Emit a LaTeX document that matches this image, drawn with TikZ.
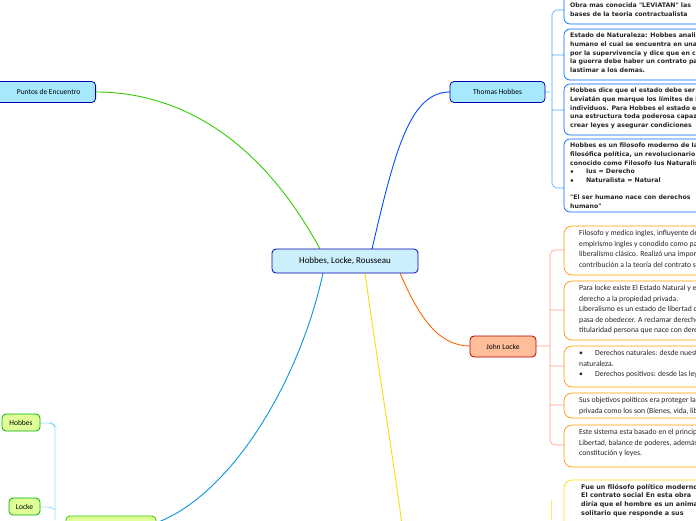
\documentclass[tikz,border=0pt]{standalone}
\usepackage{fontspec}
\setmainfont{Carlito}
\newfontfamily\vb{DejaVu Sans}
\begin{document}
\begin{tikzpicture}[x=1pt,y=-1pt,
 topic/.style={draw=#1!70!black,rounded corners=4pt,line width=0.8pt,inner sep=0pt,font=\fontsize{7.5}{9}\selectfont},
 hb/.style={draw=blue!60!cyan,line width=0.7pt,rounded corners=6pt,fill=white},
 lb/.style={draw=orange!80!yellow,line width=0.7pt,rounded corners=8pt,fill=white},
 rb/.style={draw=yellow!80!orange,line width=0.7pt,rounded corners=8pt,fill=white},
 ht/.style={anchor=north west,align=left,inner sep=0pt,font=\vb\bfseries\fontsize{6.2}{8.6}\selectfont,text=black!85},
 lt/.style={anchor=north west,align=left,inner sep=0pt,font=\fontsize{7.7}{10.6}\selectfont,text=black!85},
 bluel/.style={draw=blue!70!cyan,line width=0.9pt},
]
\useasboundingbox (0,0) rectangle (696,520);
\clip (0,0) rectangle (696,520);
% connectors
\draw[draw=green!60!olive,line width=0.9pt] (320,249) .. controls (250,120) and (160,92) .. (96,92);
\draw[bluel] (372,249) .. controls (395,150) and (410,92) .. (450,92);
\draw[draw=orange!80!red,line width=0.9pt] (400,273) .. controls (420,320) and (440,346) .. (470,346);
\draw[draw=cyan!80!blue,line width=0.9pt] (323,273) .. controls (300,380) and (230,500) .. (150,525);
\draw[draw=yellow!80!orange,line width=0.9pt] (365,273) .. controls (380,380) and (395,470) .. (402,525);
% branches
\draw[draw=blue!50!cyan!70,line width=0.6pt,rounded corners=5pt] (545,92) -- (550,92)
 (564,10) -- (552,10) -- (552,188) -- (564,188) (552,55) -- (564,55) (552,110) -- (564,110);
\draw[draw=orange!50!red!50,line width=0.6pt,rounded corners=5pt] (536,346) -- (550,346)
 (564,250) -- (550,250) -- (550,445) -- (564,445) (550,310) -- (564,310) (550,366) -- (564,366) (550,405) -- (564,405);
\draw[draw=cyan!40,line width=0.8pt,rounded corners=4pt] (40,423) -- (52,423) -- (55,426) -- (55,520) (40,507) -- (52,507) -- (55,510);
% Topic nodes
\node[topic=blue,fill=cyan!20,minimum width=146pt,minimum height=24pt,font=\fontsize{9}{10}\selectfont] (c) at (345,261) {Hobbes, Locke, Rousseau};
\node[topic=blue,fill=blue!25!cyan!35,minimum width=100pt,minimum height=21pt,anchor=east] (pe) at (96,92) {\hspace*{6pt}Puntos de Encuentro};
\node[topic=blue,fill=blue!25!cyan!35,minimum width=95pt,minimum height=21pt] (th) at (497.5,92) {Thomas Hobbes};
\node[topic=red,fill=red!30!orange!40,minimum width=66pt,minimum height=21pt] (jl) at (503,346.5) {John Locke};
\node[topic=green,fill=green!30!yellow!40,minimum width=38pt,minimum height=17pt] (h2) at (21,422.5) {Hobbes};
\node[topic=green,fill=green!30!yellow!40,minimum width=31pt,minimum height=17pt] (l2) at (24.5,506.5) {Locke};
\draw[draw=green!60!olive,fill=green!30!yellow!40,line width=0.8pt,rounded corners=4pt] (66,530) rectangle (156,516);
% Hobbes boxes
\draw[hb] (564,-6) rectangle (710,24);
\node[ht] (t1) at (570,3) {Obra mas conocida "LEVIATAN" las\\bases de la teoria contractualista};
\draw[hb] (564,29) rectangle (710,80);
\node[ht] (t2) at (570,33) {Estado de Naturaleza: Hobbes analiza al ser\\humano el cual se encuentra en una lucha\\por la supervivencia y dice que en contra de\\la guerra debe haber un contrato para no\\lastimar a los demas.};
\draw[hb] (564,84) rectangle (710,135);
\node[ht] (t3) at (570,88) {Hobbes dice que el estado debe ser un\\Leviatán que marque los límites de los\\individuos. Para Hobbes el estado es\\una estructura toda poderosa capaz de\\crear leyes y asegurar condiciones};
\draw[hb] (564,139) rectangle (710,212);
\node[ht] (t4) at (570,143) {Hobbes es un filosofo moderno de la\\filosófica política, un revolucionario\\conocido como Filosofo Ius Naturalista\\$\bullet$\hspace{12pt}Ius = Derecho\\$\bullet$\hspace{12pt}Naturalista = Natural\\[8.6pt]"El ser humano nace con derechos\\humano"};
% Locke boxes
\draw[lb] (564,226) rectangle (710,275);
\node[lt] (u1) at (579,230) {Filosofo y medico ingles, influyente del\\empirismo ingles y conodido como padre del\\liberalismo clásico. Realizó una importante\\contribución a la teoría del contrato social.};
\draw[lb] (564,281) rectangle (710,340);
\node[lt] (u2) at (579,285) {Para locke existe El Estado Natural y el\\derecho a la propiedad privada.\\Liberalismo es un estado de libertad que\\pasa de obedecer. A reclamar derechos,\\titularidad persona que nace con derechos.};
\draw[lb] (564,346) rectangle (710,387);
\node[lt] (u3) at (579,350) {\textbullet\hspace{12pt}Derechos naturales: desde nuestra\\naturaleza.\\\textbullet\hspace{12pt}Derechos positivos: desde las leyes.};
\draw[lb] (564,393) rectangle (710,418);
\node[lt] (u4) at (579,397) {Sus objetivos políticos era proteger la propiedad\\privada como los son (Bienes, vida, libertad).};
\draw[lb] (564,425) rectangle (710,467);
\node[lt] (u5) at (579,429) {Este sistema esta basado en el principio de\\Libertad, balance de poderes, además de\\constitución y leyes.};
% Rousseau box
\draw[rb] (564,480) rectangle (710,540);
\draw[draw=yellow!80!orange!60,line width=0.6pt] (551,500) -- (551,520);
\node[ht,font=\vb\bfseries\fontsize{6.4}{8.6}\selectfont] (r1) at (581,484) {Fue un filósofo político moderno\\El contrato social En esta obra\\diría que el hombre es un animal\\solitario que responde a sus};
\end{tikzpicture}
\end{document}
